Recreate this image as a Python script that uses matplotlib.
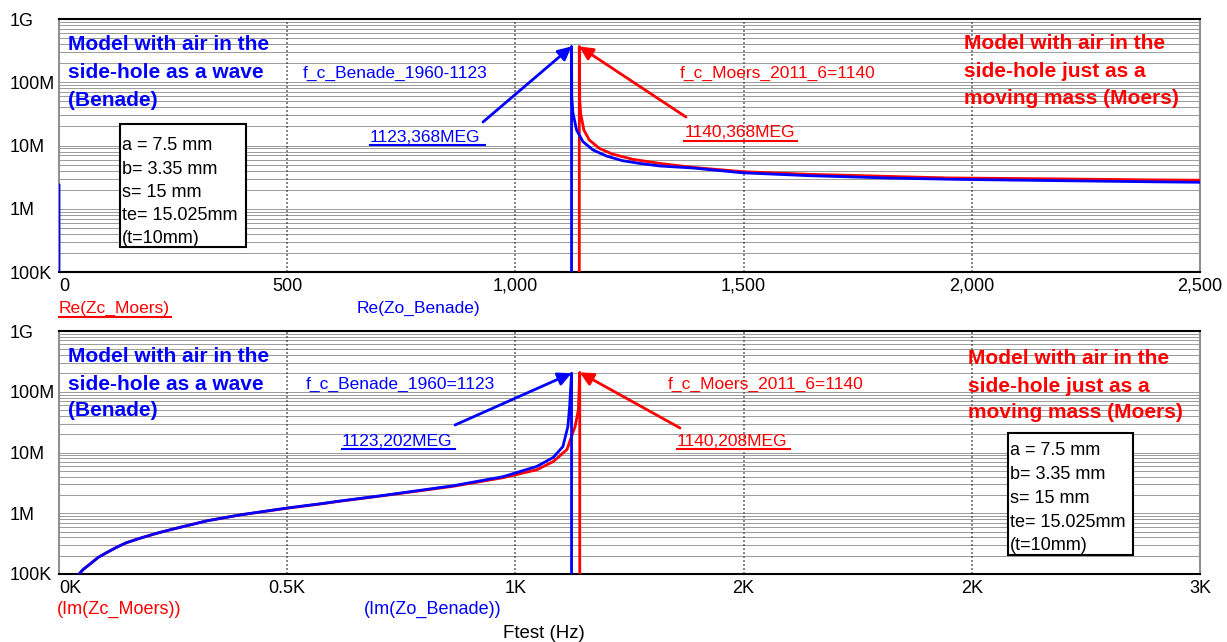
import matplotlib
matplotlib.use('Agg')
import matplotlib.pyplot as plt
import numpy as np
from matplotlib import font_manager
from matplotlib.lines import Line2D
from matplotlib.patches import Rectangle
from matplotlib.ticker import LogLocator, NullFormatter

W, H = 1227, 642

names = {f.name for f in font_manager.fontManager.ttflist}
NARROW = 'Liberation Sans Narrow' if 'Liberation Sans Narrow' in names else 'Liberation Sans'
BOLD = 'Liberation Sans'
plt.rcParams['font.family'] = [NARROW, 'DejaVu Sans']
FS = 12.5 if NARROW == 'Liberation Sans' else 15

# axes ticks
x_ticks = [0, 500, 1000, 1500, 2000, 2500]
top_xlabels = ['0', '500', '1,000', '1,500', '2,000', '2,500']
bot_xlabels = ['0K', '0.5K', '1K', '2K', '2K', '3K']
y_ticks = [1e5, 1e6, 1e7, 1e8, 1e9]
y_labels = ['100K', '1M', '10M', '100M', '1G']

# Re(Zo_Benade): value at DC, then spike at fc=1123 and decay
re_benade_f = [0, 0, np.nan, 1123, 1123, 1123.5, 1126, 1134, 1148, 1170, 1200, 1235, 1273,
               1317, 1390, 1498, 1645, 1820, 1960, 2190, 2410, 2500]
re_benade_v = [2.37e6, 1e4, np.nan, 1e4, 3.68e8, 5.9e7, 3.3e7, 1.76e7, 1.15e7, 8.5e6, 6.8e6,
               5.75e6, 5.2e6, 4.74e6, 4.4e6, 3.7e6, 3.33e6, 3.06e6, 2.92e6, 2.78e6, 2.66e6, 2.62e6]

# Re(Zc_Moers): spike at fc=1140 and decay
re_moers_f = [1140, 1140, 1141, 1143, 1150, 1162, 1184, 1213, 1257, 1317, 1390, 1498, 1645,
              1750, 1850, 1950, 2180, 2400, 2500]
re_moers_v = [1e4, 3.68e8, 5.2e7, 3.2e7, 1.76e7, 1.22e7, 9.0e6, 7.3e6, 6.05e6, 5.2e6, 4.5e6,
              3.86e6, 3.5e6, 3.35e6, 3.2e6, 3.07e6, 2.97e6, 2.86e6, 2.83e6]

# Im(Zo_Benade): rises up to fc=1123
im_benade_f = [44, 53, 68, 86, 104, 126, 148, 177, 214, 250, 324, 397, 500, 572, 616, 718,
               864, 973, 1047, 1083, 1104, 1115, 1119, 1123, 1123]
im_benade_v = [1e5, 1.19e5, 1.46e5, 1.88e5, 2.24e5, 2.75e5, 3.28e5, 3.87e5, 4.68e5, 5.5e5,
               7.5e5, 9.4e5, 1.22e6, 1.43e6, 1.59e6, 2.0e6, 2.84e6, 4.0e6, 5.9e6, 8.3e6,
               1.25e7, 2.68e7, 6.0e7, 2.02e8, 1e4]

# Im(Zc_Moers): rises up to fc=1140
im_moers_f = [44, 53, 68, 86, 104, 126, 148, 177, 214, 250, 324, 397, 500, 572, 616, 718,
              864, 973, 1047, 1083, 1113, 1131, 1138, 1141, 1141]
im_moers_v = [1e5, 1.19e5, 1.46e5, 1.88e5, 2.24e5, 2.75e5, 3.28e5, 3.87e5, 4.68e5, 5.5e5,
              7.5e5, 9.4e5, 1.21e6, 1.42e6, 1.58e6, 1.98e6, 2.78e6, 3.85e6, 5.2e6, 7.1e6,
              1.12e7, 2.71e7, 5.1e7, 2.08e8, 1e4]

params = ['a = 7.5 mm', 'b= 3.35 mm', 's= 15 mm', 'te= 15.025mm', '(t=10mm)']

fig = plt.figure(figsize=(W / 100, H / 100), dpi=100)
ax1 = fig.add_axes([59 / W, 1 - 272 / H, 1141 / W, 253 / H])
ax2 = fig.add_axes([59 / W, 1 - 574 / H, 1141 / W, 243 / H])


def style(ax, xlabels):
    ax.set_yscale('log')
    ax.set_xlim(0, 2500)
    ax.set_ylim(1e5, 1e9)
    ax.set_xticks(x_ticks)
    ax.set_xticklabels(xlabels)
    ax.set_yticks(y_ticks)
    ax.set_yticklabels(y_labels)
    ax.yaxis.set_minor_locator(LogLocator(base=10, subs=np.arange(2, 10)))
    ax.yaxis.set_minor_formatter(NullFormatter())
    ax.tick_params(which='both', length=0)
    ax.tick_params(axis='y', pad=35.3, labelsize=FS + 0.5)
    ax.tick_params(axis='x', pad=4, labelsize=FS + 0.5)
    for lab in ax.get_yticklabels():
        lab.set_horizontalalignment('left')
    ax.get_xticklabels()[0].set_horizontalalignment('left')
    ax.set_axisbelow(True)
    ax.grid(True, which='both', axis='y', color='#3c3c3c', lw=0.72, ls=(0, (1, 1)))
    ax.grid(True, which='major', axis='x', color='#888888', lw=1.44, ls=(0, (1, 1)))
    for side in ['top', 'bottom']:
        ax.spines[side].set_color('black')
        ax.spines[side].set_linewidth(1.5)
    for side in ['left', 'right']:
        ax.spines[side].set_color('#909090')
        ax.spines[side].set_linewidth(1.5)


style(ax1, top_xlabels)
style(ax2, bot_xlabels)

ax1.plot(re_moers_f, re_moers_v, color='#ff0000', lw=2, zorder=3)
ax1.plot(re_benade_f, re_benade_v, color='#0000ff', lw=2, zorder=3)
ax2.plot(im_moers_f, im_moers_v, color='#ff0000', lw=2, zorder=3)
ax2.plot(im_benade_f, im_benade_v, color='#0000ff', lw=2, zorder=3)


def ftext(x, y, s, color='black', size=FS, bold=False):
    fig.text(x / W, 1 - y / H, s, color=color, fontsize=size,
             family=BOLD if bold else NARROW, fontweight='bold' if bold else 'normal',
             ha='left', va='baseline')


def uline(x0, x1, y, color):
    fig.add_artist(Line2D([x0 / W, x1 / W], [1 - y / H, 1 - y / H], color=color, lw=1.5,
                          transform=fig.transFigure))


def arrow(ax, tip, tail, color):
    ax.annotate('', xy=tip, xycoords='data', xytext=(tail[0], H - tail[1]),
                textcoords='figure pixels',
                arrowprops=dict(arrowstyle='-|>,head_length=0.5,head_width=0.25',
                                color=color, lw=2, mutation_scale=16,
                                shrinkA=0, shrinkB=0))


def pbox(x0, y0, x1, y1, baselines):
    fig.add_artist(Rectangle((x0 / W, 1 - y1 / H), (x1 - x0) / W, (y1 - y0) / H,
                             transform=fig.transFigure, facecolor='white',
                             edgecolor='black', lw=1.5, zorder=3))
    for s, yb in zip(params, baselines):
        fig.text((x0 + 2) / W, 1 - yb / H, s, fontsize=FS + 0.5, family=NARROW,
                 ha='left', va='baseline', zorder=4)


blue_model = ['Model with air in the', 'side-hole as a wave', '(Benade)']
red_model = ['Model with air in the', 'side-hole just as a', 'moving mass (Moers)']

# top panel annotations
for s, yb in zip(blue_model, [50, 78, 106]):
    ftext(68, yb, s, '#0000ff', 15, True)
for s, yb in zip(red_model, [49, 77, 104]):
    ftext(964, yb, s, '#ff0000', 15, True)
ftext(303, 78, 'f_c_Benade_1960-1123', '#0000ff')
ftext(680, 78, 'f_c_Moers_2011_6=1140', '#ff0000')
ftext(370, 142, '1123,368MEG', '#0000ff')
uline(370, 485, 145, '#0000ff')
ftext(685, 137, '1140,368MEG', '#ff0000')
uline(684, 797, 141, '#ff0000')
arrow(ax1, (1123, 3.68e8), (483, 122), '#0000ff')
arrow(ax1, (1140, 3.68e8), (686, 117), '#ff0000')
pbox(120, 124, 246, 247, [150, 174, 197, 220, 243])
ftext(59, 313, 'Re(Zc_Moers)', '#ff0000')
uline(59, 171, 317, '#ff0000')
ftext(357, 313, 'Re(Zo_Benade)', '#0000ff')

# bottom panel annotations
for s, yb in zip(blue_model, [362, 390, 416]):
    ftext(68, yb, s, '#0000ff', 15, True)
for s, yb in zip(red_model, [364, 392, 418]):
    ftext(968, yb, s, '#ff0000', 15, True)
ftext(306, 389, 'f_c_Benade_1960=1123', '#0000ff')
ftext(668, 389, 'f_c_Moers_2011_6=1140', '#ff0000')
ftext(342, 446, '1123,202MEG', '#0000ff')
uline(342, 455, 449, '#0000ff')
ftext(677, 446, '1140,208MEG', '#ff0000')
uline(677, 790, 449, '#ff0000')
arrow(ax2, (1123, 2.02e8), (455, 425), '#0000ff')
arrow(ax2, (1141, 2.08e8), (680, 428), '#ff0000')
pbox(1008, 433, 1133, 555, [455, 479, 503, 527, 550])
ftext(57, 614, '(Im(Zc_Moers))', '#ff0000', FS + 0.5)
ftext(364, 614, '(Im(Zo_Benade))', '#0000ff', FS + 0.5)
ftext(503, 638, 'Ftest (Hz)', 'black', FS + 1)

fig.savefig('out.png', dpi=100, facecolor='white')
